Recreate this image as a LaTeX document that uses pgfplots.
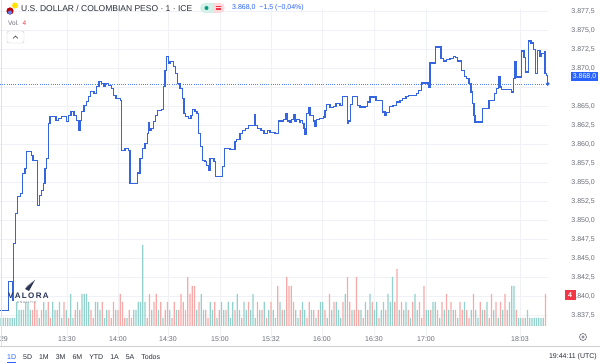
\documentclass[border=0pt]{standalone}
\usepackage{pgfplots}
\pgfplotsset{compat=1.18}
\usepackage{pgfplotstable}
\usepackage{fontspec}
\setmainfont{Liberation Sans}
\definecolor{tvblue}{HTML}{2962FF}
\definecolor{lineblue}{HTML}{3566E0}
\definecolor{gridc}{HTML}{EFF1F6}
\definecolor{txtgray}{HTML}{6A6D78}
\definecolor{txtdark}{HTML}{2A2E39}
\definecolor{volteal}{HTML}{92D2CC}
\definecolor{volred}{HTML}{F7A9A7}
\definecolor{tvred}{HTML}{F23645}
\definecolor{navy}{HTML}{2B3553}
\definecolor{tealpill}{HTML}{D3F0E9}
\definecolor{pinkpill}{HTML}{FBD9DC}
\definecolor{greendot}{HTML}{089981}

\pgfplotsset{pricescale/.style={
  y coord trafo/.code={\pgfmathparse{##1-3800}},
  y coord inv trafo/.code={\pgfmathparse{##1+3800}},
  ymin=3834.737, ymax=3877.895}}

\pgfplotstableread{
x v
0 3838.20
8.3 3841.97
12.3 3839.47
13.5 3846.97
15.7 3850.92
17.3 3853.16
20.7 3853.55
22.7 3856.18
25 3856.84
26.7 3859.08
31.7 3858.55
33 3857.89
37.3 3851.97
39.3 3853.29
41.7 3853.95
43.3 3854.87
45 3856.84
46.7 3858.16
48.3 3862.76
50 3863.68
56 3863.16
58.3 3863.42
61.7 3863.68
66.7 3863.03
68.3 3863.82
71 3864.34
74 3863.82
76.7 3863.16
78.7 3861.84
80 3863.16
81.7 3864.34
84 3865.13
86.7 3865.66
88.3 3866.32
90.7 3866.97
94 3866.71
96.7 3867.63
99 3868.29
101.7 3868.03
103.3 3867.63
105 3868.03
108.3 3867.76
111.7 3867.37
113.3 3866.45
116 3866.05
120.7 3865.79
121.7 3859.21
125 3859.47
128.3 3859.21
130 3854.87
137.5 3856.30
140 3858.16
142.3 3859.47
145 3860.13
147.3 3861.45
148.3 3862.90
149.5 3861.84
151 3862.11
153.3 3863.03
155.7 3863.82
157.3 3864.47
161.7 3864.61
163.3 3867.63
165 3869.74
166.7 3871.62
168.3 3870.66
170 3870.92
173.3 3870.26
175.7 3869.34
177.7 3868.03
180 3867.37
182.3 3866.05
184 3864.08
185.7 3863.68
188.3 3863.42
191 3863.82
192.3 3864.61
195 3864.34
197 3864.08
198.3 3861.45
200.7 3859.74
202.3 3857.89
205 3857.76
206.7 3857.24
208.3 3856.58
210 3858.16
214 3857.76
215.7 3855.79
222.3 3857.11
224.3 3859.47
230 3859.34
235 3860.39
236.7 3860.66
240 3861.45
242.3 3861.84
245.7 3862.11
248.3 3862.50
254.3 3863.99
255.3 3862.50
257.7 3862.11
261 3861.84
264 3861.45
267.3 3861.84
270 3861.58
275 3861.45
278.3 3863.12
283.3 3863.29
286 3864.08
287.3 3863.12
290 3862.99
291.7 3863.29
294 3863.95
295 3863.12
296.7 3863.29
299.3 3862.99
300.7 3863.20
302.3 3862.76
304 3862.11
305 3861.36
306.7 3864.08
308.3 3864.87
310 3863.86
313.3 3863.12
315 3862.41
316.7 3863.29
319.3 3863.42
323.3 3863.65
325 3864.51
326.7 3865.30
330 3864.87
333.3 3865.04
336 3865.40
340 3865.17
342.7 3866.36
347.3 3862.86
348.7 3863.12
350.7 3865.26
352.7 3866.36
357.3 3865.17
360 3864.96
365 3865.04
367.3 3865.62
370 3866.28
374 3866.36
376 3865.83
382.7 3864.30
385 3863.86
386.7 3864.21
389.3 3865.04
393 3865.17
396.7 3865.62
400 3865.79
402.7 3866.05
406 3866.36
408.3 3866.49
416.7 3866.71
418.3 3867.15
421.7 3868.12
428.3 3867.50
430 3870.75
435.7 3872.86
441 3871.32
443.3 3871.01
446.7 3871.18
450 3871.32
453.3 3871.62
455.7 3871.45
457.7 3871.01
461.7 3869.78
464.3 3868.99
466.7 3868.68
469 3868.03
471 3866.94
472.3 3865.40
474 3863.86
475 3862.99
482.3 3864.74
489 3865.83
494.3 3866.71
496.7 3867.37
498.3 3868.99
500 3867.59
501.7 3867.24
511.7 3866.94
513.3 3868.68
515 3870.88
516.7 3868.91
521.7 3872.33
524 3871.45
525.7 3869.57
528.3 3873.64
531 3873.38
533.3 3872.50
535.7 3869.34
537.7 3872.41
540 3871.62
541.7 3871.97
544.3 3872.20
545 3869.34
546.7 3869.08
547.7 3868.00
}\pricedata

\pgfplotstableread[row sep=\\]{
t r\\
8 0\\ 8 0\\ 8 0\\ 8 0\\ 8 0\\ 8 0\\ 8 0\\ 24 0\\ 16 0\\ 16 0\\
16 0\\ 24 0\\ 24 0\\ 16 0\\ 0 16\\ 0 24\\ 0 16\\ 8 0\\ 0 16\\ 24 0\\
16 0\\ 0 24\\ 0 8\\ 24 0\\ 16 0\\ 0 16\\ 24 0\\ 8 0\\ 0 24\\ 16 0\\
0 8\\ 32 0\\ 8 0\\ 0 16\\ 24 0\\ 0 16\\ 32 0\\ 32 0\\ 32 0\\ 24 0\\
0 16\\ 0 8\\ 24 0\\ 24 0\\ 16 0\\ 0 24\\ 8 0\\ 16 0\\ 0 16\\ 0 8\\
0 24\\ 16 0\\ 0 16\\ 0 32\\ 0 24\\ 0 8\\ 8 0\\ 0 16\\ 0 8\\ 16 0\\
16 0\\ 24 0\\ 24 0\\ 81 0\\ 24 0\\ 0 8\\ 0 32\\ 16 0\\ 0 24\\ 0 32\\
16 0\\ 0 24\\ 8 0\\ 0 16\\ 0 24\\ 16 0\\ 0 8\\ 0 24\\ 16 0\\ 0 16\\
0 32\\ 0 24\\ 0 16\\ 0 49\\ 0 32\\ 0 40\\ 0 40\\ 16 0\\ 0 24\\ 32 0\\
16 0\\ 0 16\\ 0 8\\ 24 0\\ 16 0\\ 0 24\\ 8 0\\ 0 16\\ 24 0\\ 16 0\\
0 16\\ 24 0\\ 8 0\\ 24 0\\ 0 16\\ 32 0\\ 16 0\\ 0 8\\ 24 0\\ 16 0\\
0 24\\ 16 0\\ 32 0\\ 8 0\\ 0 24\\ 16 0\\ 0 16\\ 24 0\\ 0 8\\ 16 0\\
0 24\\ 16 0\\ 8 0\\ 0 40\\ 24 0\\ 0 16\\ 16 0\\ 0 49\\ 0 40\\ 0 40\\
0 24\\ 16 0\\ 8 0\\ 0 16\\ 24 0\\ 16 0\\ 0 8\\ 0 24\\ 16 0\\ 0 16\\
8 0\\ 0 16\\ 24 0\\ 24 0\\ 0 16\\ 8 0\\ 0 32\\ 16 0\\ 0 24\\ 24 0\\
16 0\\ 8 0\\ 0 24\\ 32 0\\ 0 49\\ 0 24\\ 16 0\\ 0 16\\ 0 49\\ 0 16\\
16 0\\ 0 8\\ 24 0\\ 0 16\\ 32 0\\ 0 24\\ 16 0\\ 24 0\\ 0 8\\ 16 0\\
24 0\\ 0 16\\ 32 0\\ 24 0\\ 49 0\\ 0 24\\ 0 57\\ 16 0\\ 0 24\\ 16 0\\
24 0\\ 0 16\\ 8 0\\ 0 24\\ 32 0\\ 16 0\\ 0 24\\ 0 8\\ 0 40\\ 16 0\\
16 0\\ 0 16\\ 24 0\\ 24 0\\ 0 16\\ 8 0\\ 0 24\\ 16 0\\ 0 32\\ 16 0\\
0 24\\ 16 0\\ 0 16\\ 8 0\\ 0 24\\ 0 16\\ 24 0\\ 0 16\\ 0 8\\ 16 0\\
0 32\\ 16 0\\ 8 0\\ 0 24\\ 16 0\\ 0 16\\ 24 0\\ 0 8\\ 0 32\\ 16 0\\
0 24\\ 8 0\\ 0 24\\ 16 0\\ 0 32\\ 0 16\\ 24 0\\ 40 0\\ 40 0\\ 0 16\\
8 0\\ 8 0\\ 0 8\\ 8 0\\ 16 0\\ 8 0\\ 8 0\\ 8 0\\ 8 0\\ 8 0\\ 8 0\\ 8 0\\ 0 32\\
}\voldata

\begin{document}
\begin{tikzpicture}[x=1pt,y=1pt]
\path[use as bounding box, fill=white] (0,0) rectangle (600,364);

% grid and price scale
\begin{axis}[at={(0,36)}, anchor=south west, scale only axis,
  width=548pt, height=328pt, pricescale,
  xmin=0, xmax=548,
  axis line style={draw=none}, major tick length=0pt,
  grid=major, major grid style={gridc, line width=0.8pt},
  xtick={67,118,168,220,271,322,374,426,520},
  xticklabels={13:30,14:00,14:30,15:00,15:32,16:00,16:30,17:00,18:03},
  extra x ticks={4}, extra x tick labels={29}, extra x tick style={grid=none},
  ytick={3837.5,3840,3842.5,3845,3847.5,3850,3852.5,3855,3857.5,3860,3862.5,3865,3867.5,3870,3872.5,3875,3877.5},
  yticklabels={{3.837,5},{3.840,0},{3.842,5},{3.845,0},{3.847,5},{3.850,0},{3.852,5},{3.855,0},{3.857,5},{3.860,0},{3.862,5},{3.865,0},{},{3.870,0},{3.872,5},{3.875,0},{3.877,5}},
  yticklabel pos=right,
  yticklabel style={anchor=east, xshift=47pt, inner sep=0pt},
  xticklabel style={yshift=4pt},
  tick label style={font=\fontsize{7}{8}\selectfont, text=txtgray}]
\addplot[tvblue!80, dash pattern=on 0.8pt off 1.4pt, line width=0.5pt] coordinates {(0,3868) (548,3868)};
\end{axis}

% volume bars
\begin{axis}[at={(0,36)}, anchor=south west, scale only axis,
  width=548pt, height=328pt,
  xmin=0, xmax=548, ymin=-2, ymax=326, hide axis]
\addplot[ybar, bar width=1.4, bar shift=0pt, fill=volteal, draw=none] table[x expr=\coordindex*2.25+1, y=t] {\voldata};
\addplot[ybar, bar width=1.4, bar shift=0pt, fill=volred, draw=none] table[x expr=\coordindex*2.25+1, y=r] {\voldata};
\end{axis}

% price line
\begin{axis}[at={(0,36)}, anchor=south west, scale only axis,
  width=548pt, height=328pt, pricescale,
  xmin=0, xmax=548, hide axis, clip=false]
\addplot[const plot, lineblue, line width=1.5pt, line join=miter] table[x=x, y=v] {\pricedata};
\addplot[only marks, mark=*, mark size=1.7pt, lineblue] coordinates {(547.7,3868)};
\end{axis}

% left border
\draw[gray!25, line width=0.8pt] (1,18) -- (1,364);

% header
\fill[red!75!black] (10,353) circle (3.6);
\fill[tvblue!80] (10,351.5) circle (2);
\fill[yellow!85!orange] (15,358.5) circle (3);
\node[anchor=west, inner sep=0pt, font=\fontsize{8.5}{10}\selectfont, text=txtdark] at (21,356) {U.S. DOLLAR / COLOMBIAN PESO · 1 · ICE};
\begin{scope}
\clip[rounded corners=5pt] (200,351) rectangle (225,361);
\fill[tealpill] (200,351) rectangle (212.5,361);
\fill[pinkpill] (212.5,351) rectangle (225,361);
\end{scope}
\fill[greendot] (206.5,356) circle (2);
\draw[tvred, line width=0.6pt] (216,354.3)--(221,354.3) (216,356)--(221,356) (216,357.7)--(221,357.7);
\node[anchor=west, inner sep=0pt, font=\fontsize{7}{8}\selectfont, text=tvblue] at (232,356) {3.868,0\ \ −1,5 (−0,04\%)};
\node[anchor=west, inner sep=0pt, font=\fontsize{6.5}{8}\selectfont, text=txtgray] at (8,341) {Vol.\ \ \textcolor{tvred}{4}};
\draw[gray!40, rounded corners=2pt] (7,321) rectangle (24,333);
\draw[txtdark, line width=0.7pt] (13,325.5) -- (15.5,328) -- (18,325.5);

% logo
\fill[navy] (25,75) -- (35,84) -- (29,73) -- cycle;
\fill[navy!70] (25,75) -- (35,84) -- (27,78) -- cycle;
\node[anchor=west, inner sep=0pt, font=\bfseries\fontsize{8}{9}\selectfont, text=navy] at (8,68) {V\,A\,L\,O\,R\,A};
\node[anchor=west, inner sep=0pt, font=\fontsize{3}{4}\selectfont, text=txtgray] at (17,61.5) {A N A L I T I K};

% right price labels
\node[fill=tvblue, text=white, inner sep=1.6pt, anchor=east, font=\fontsize{7}{8}\selectfont] at (598,287.5) {3.868,0};
\node[fill=tvred, text=white, inner sep=0pt, minimum width=11pt, minimum height=10pt, font=\bfseries\fontsize{7}{8}\selectfont] at (570,69) {4};

% gear
\draw[txtgray, line width=0.6pt] (583,27) circle (3.5);
\draw[txtgray, line width=0.6pt] (583,27) circle (1.2);

% bottom toolbar
\draw[gridc!70!gray, line width=0.5pt] (0,18) -- (600,18);
\node[anchor=west, inner sep=0pt, font=\fontsize{7}{8}\selectfont, text=txtdark] at (7,7)
 {\textcolor{tvblue}{1D}\hspace{7pt}5D\hspace{7pt}1M\hspace{7pt}3M\hspace{7pt}6M\hspace{7pt}YTD\hspace{7pt}1A\hspace{7pt}5A\hspace{7pt}Todos};
\draw[tvblue, line width=1pt] (7,1.5) -- (16,1.5);
\node[anchor=east, inner sep=0pt, font=\fontsize{7}{8}\selectfont, text=txtdark] at (597,7) {19:44:11 (UTC)};
\end{tikzpicture}
\end{document}
